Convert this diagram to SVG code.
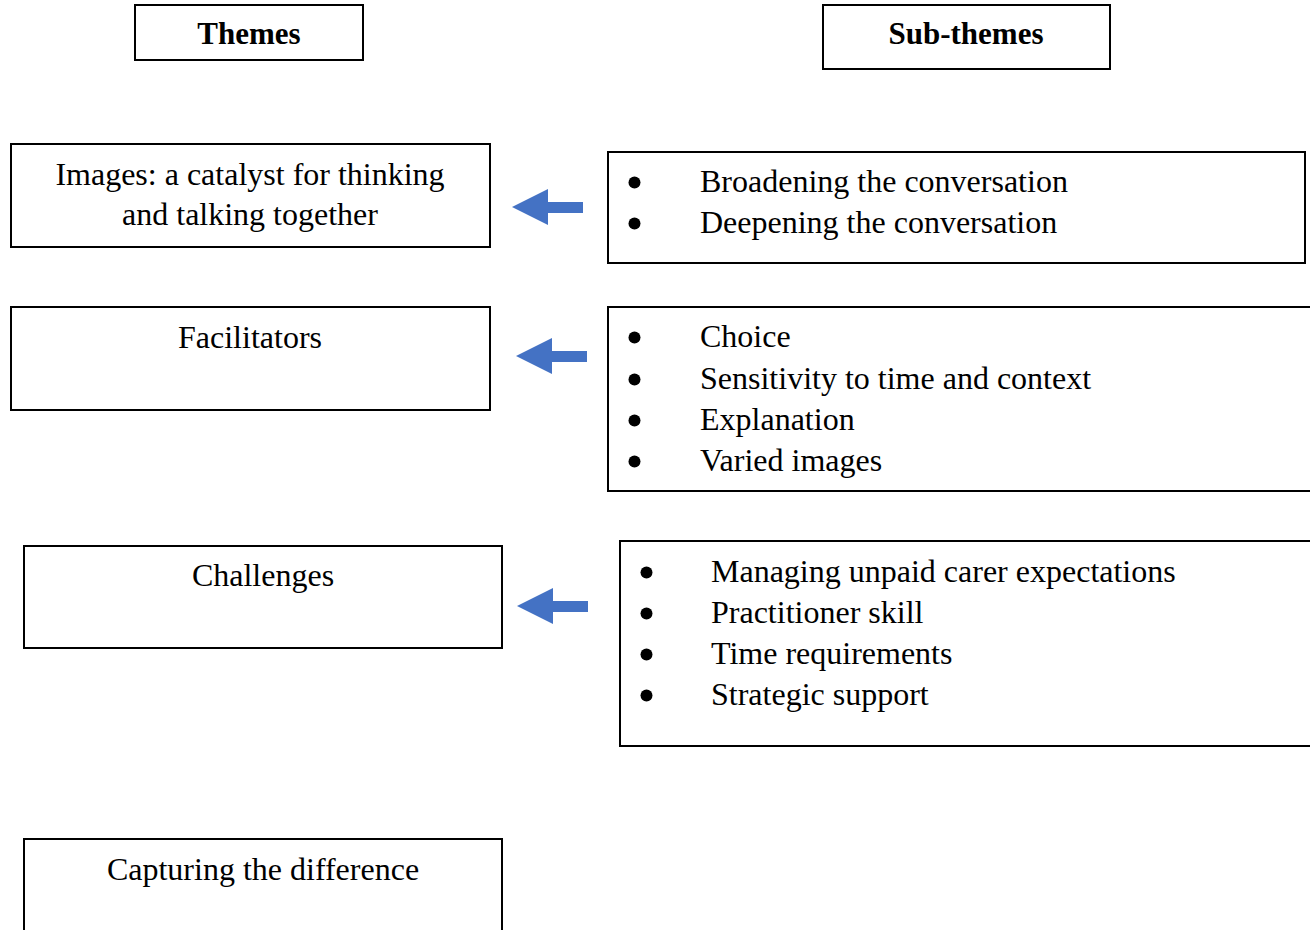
<svg xmlns="http://www.w3.org/2000/svg" width="1310" height="930" viewBox="0 0 1310 930">
<style>
.box{fill:#fff;stroke:#000;stroke-width:2}
.t{font-family:"Liberation Serif","Times New Roman",serif;font-size:32px;fill:#000}
.c{text-anchor:middle}
.b{font-weight:bold;font-size:31px}
.dot{fill:#000}
.arr{fill:#4472C4}
</style>
<defs>
<path id="arrow" class="arr" d="M0,0 L36,-18 L36,-5 L71,-5 L71,6 L36,6 L36,18 Z"/>
<circle id="bullet" class="dot" r="6"/>
</defs>
<rect width="1310" height="930" fill="#fff"/>
<g id="themes-header"><rect class="box" x="135" y="5" width="228" height="55"/><text class="t c b" x="249" y="44">Themes</text></g>
<g id="subthemes-header"><rect class="box" x="823" y="5" width="287" height="64"/><text class="t c b" x="966" y="44">Sub-themes</text></g>
<g id="theme1"><rect class="box" x="11" y="144" width="479" height="103"/><text class="t c" x="250" y="185">Images: a catalyst for thinking</text><text class="t c" x="250" y="225">and talking together</text></g>
<g id="sub1"><rect class="box" x="608" y="152" width="697" height="111"/>
<use href="#bullet" x="634.5" y="182.5"/><text class="t" x="700" y="192">Broadening the conversation</text>
<use href="#bullet" x="634.5" y="223.5"/><text class="t" x="700" y="233">Deepening the conversation</text></g>
<g id="theme2"><rect class="box" x="11" y="307" width="479" height="103"/><text class="t c" x="250" y="348">Facilitators</text></g>
<g id="sub2"><rect class="box" x="608" y="307" width="720" height="184"/>
<use href="#bullet" x="634.5" y="337.5"/><text class="t" x="700" y="347">Choice</text>
<use href="#bullet" x="634.5" y="379.5"/><text class="t" x="700" y="389">Sensitivity to time and context</text>
<use href="#bullet" x="634.5" y="420.5"/><text class="t" x="700" y="430">Explanation</text>
<use href="#bullet" x="634.5" y="461.5"/><text class="t" x="700" y="471">Varied images</text></g>
<g id="theme3"><rect class="box" x="24" y="546" width="478" height="102"/><text class="t c" x="263" y="586">Challenges</text></g>
<g id="sub3"><rect class="box" x="620" y="541" width="710" height="205"/>
<use href="#bullet" x="646.5" y="572.5"/><text class="t" x="711" y="582">Managing unpaid carer expectations</text>
<use href="#bullet" x="646.5" y="613.5"/><text class="t" x="711" y="623">Practitioner skill</text>
<use href="#bullet" x="646.5" y="654.5"/><text class="t" x="711" y="664">Time requirements</text>
<use href="#bullet" x="646.5" y="695.5"/><text class="t" x="711" y="705">Strategic support</text></g>
<g id="theme4"><rect class="box" x="24" y="839" width="478" height="120"/><text class="t c" x="263" y="880">Capturing the difference</text></g>
<g id="connectors">
<use href="#arrow" x="512" y="207"/>
<use href="#arrow" x="516" y="356"/>
<use href="#arrow" x="517" y="606"/>
</g>
</svg>
